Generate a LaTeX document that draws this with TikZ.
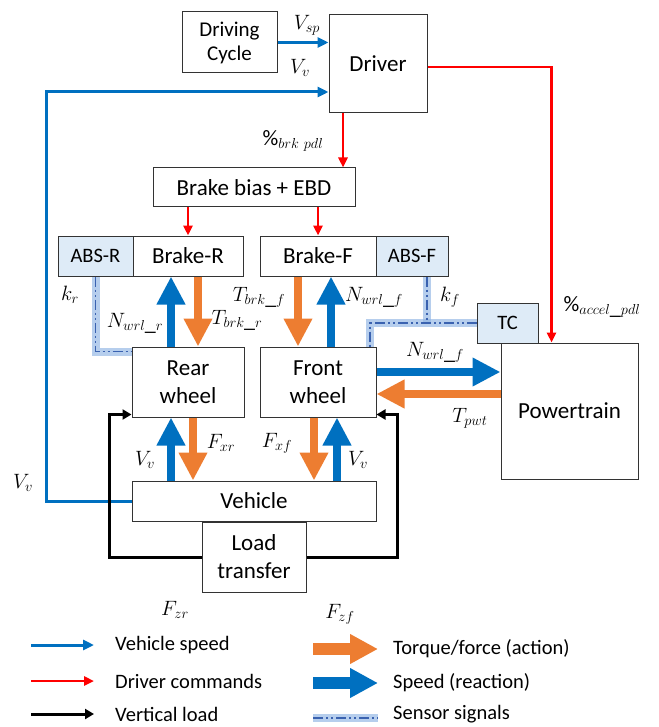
\documentclass[tikz,border=0pt]{standalone}
\usepackage{fontspec}
\setmainfont{Carlito}
\usetikzlibrary{arrows.meta,calc}
\definecolor{cblue}{HTML}{0070C0}
\definecolor{corange}{HTML}{ED7D31}
\definecolor{cred}{HTML}{FF0000}
\definecolor{cabs}{HTML}{DEEBF7}
\definecolor{csens}{HTML}{3A62B0}
\definecolor{cglow}{HTML}{8FB4E3}
\begin{document}
\begin{tikzpicture}[x=1pt,y=-1pt,
  box/.style={draw=black!80, line width=1pt, fill=white, inner sep=0pt, align=center, font=\fontsize{23}{28}\selectfont},
  absbox/.style={box, fill=cabs, font=\fontsize{20.5}{24}\selectfont},
  lbl/.style={font=\fontsize{22}{26}\selectfont, inner sep=0pt},
  legtext/.style={font=\fontsize{20.5}{24}\selectfont, inner sep=0pt, anchor=west},
  thinblue/.style={draw=cblue, line width=3pt, -{Triangle[length=11pt,width=10pt]}},
  thinred/.style={draw=cred, line width=2.5pt, -{Triangle[length=10pt,width=9pt]}},
  thinblack/.style={draw=black, line width=3pt, -{Triangle[length=9pt,width=10pt]}},
  bigblue/.style={draw=cblue, line width=8pt, -{Triangle[length=28pt,width=27pt]}},
  bigorange/.style={draw=corange, line width=8pt, -{Triangle[length=28pt,width=27pt]}},
  legblue/.style={draw=cblue, line width=12pt, -{Triangle[length=28pt,width=28pt]}},
  legorange/.style={draw=corange, line width=12pt, -{Triangle[length=28pt,width=28pt]}},
  glow/.style={draw=cglow, line width=8pt, opacity=0.65},
  sens/.style={draw=csens, line width=1.8pt, dash pattern=on 10pt off 3pt on 2pt off 3pt on 2pt off 3pt}
]
\useasboundingbox (0,0) rectangle (658,727);

% boxes
\node[box, minimum width=95pt, minimum height=61pt, font=\fontsize{21}{24}\selectfont] (dc) at (229.5,42.5) {Driving\\Cycle};
\node[box, minimum width=98pt, minimum height=98pt] (drv) at (378,64) {Driver};
\node[box, minimum width=202pt, minimum height=39pt] (bb) at (254,187.5) {Brake bias + EBD};
\node[absbox, minimum width=75pt, minimum height=40pt] (absr) at (95.5,256) {ABS-R};
\node[box, minimum width=110pt, minimum height=40pt] (brr) at (188,256) {Brake-R};
\node[box, minimum width=116pt, minimum height=40pt] (brf) at (318,256) {Brake-F};
\node[absbox, minimum width=72pt, minimum height=40pt] (absf) at (412,256) {ABS-F};
\node[box, minimum width=112pt, minimum height=70pt] (rw) at (188,382) {Rear\\wheel};
\node[box, minimum width=116pt, minimum height=70pt] (fw) at (318,382) {Front\\wheel};
\node[absbox, minimum width=61pt, minimum height=40pt] (tc) at (507.5,323) {TC};
\node[box, minimum width=137pt, minimum height=136pt] (pt) at (569.5,411) {Powertrain};
\node[box, minimum width=244pt, minimum height=40pt] (veh) at (254,501) {Vehicle};
\node[box, minimum width=104pt, minimum height=70pt] (lt) at (254,557) {Load\\transfer};

% vehicle speed lines
\draw[thinblue] (dc.east) -- (dc.east -| drv.west);
\coordinate (drvin) at ([yshift=-28pt]drv.west);
\coordinate (vcorner) at (46,92);
\draw[thinblue] (veh.west) -| (vcorner) -- (drvin);

% driver commands
\coordinate (ptin) at ([xshift=-18pt]pt.north);
\coordinate (drvout) at ([yshift=-3pt]drv.east);
\draw[thinred] (drvout) -| (ptin);
\coordinate (r1) at ([xshift=-35pt]drv.south);
\draw[thinred] (r1) -- (r1 |- bb.north);
\draw[thinred] (bb.south -| brr.north) -- (brr.north);
\draw[thinred] (bb.south -| brf.north) -- (brf.north);

% big arrows upper
\coordinate (ub1) at ([xshift=-17pt]rw.north);
\draw[bigblue] (ub1) -- (ub1 |- brr.south);
\coordinate (uo1) at ([xshift=10pt]brr.south);
\draw[bigorange] (uo1) -- (uo1 |- rw.north);
\coordinate (uo2) at ([xshift=-20pt]brf.south);
\draw[bigorange] (uo2) -- (uo2 |- fw.north);
\coordinate (ub2) at ([xshift=13pt]fw.north);
\draw[bigblue] (ub2) -- (ub2 |- brf.south);

% big arrows lower
\coordinate (lb1) at ([xshift=-17pt]rw.south);
\draw[bigblue] (lb1 |- veh.north) -- (lb1);
\coordinate (lo1) at ([xshift=5pt]rw.south);
\draw[bigorange] (lo1) -- (lo1 |- veh.north);
\coordinate (lo2) at ([xshift=-4pt]fw.south);
\draw[bigorange] (lo2) -- (lo2 |- veh.north);
\coordinate (lb2) at ([xshift=19pt]fw.south);
\draw[bigblue] (lb2 |- veh.north) -- (lb2);

% horizontal big arrows
\coordinate (hb) at ([yshift=10pt]fw.east);
\draw[bigblue] (hb) -- (hb -| pt.west);
\coordinate (ho) at ([yshift=17pt]pt.west);
\draw[bigorange] (ho) -- (ho -| fw.east);

% vertical load loops
\coordinate (rwin) at ([yshift=3pt]rw.south west);
\coordinate (fwin) at ([yshift=3pt]fw.south east);
\coordinate (bcor1) at (109,0);
\coordinate (bcor2) at (397,0);
\draw[thinblack] (lt.west) -| (bcor1 |- rwin) -- (rwin);
\draw[thinblack] (lt.east) -| (bcor2 |- fwin) -- (fwin);

% sensor signals
\coordinate (srw) at ([yshift=-5pt]rw.north west);
\coordinate (sfa) at ([xshift=15pt]absf.south);
\coordinate (sfw) at ([xshift=52pt]fw.north);
\draw[glow] (absr.south) |- (srw);
\draw[glow] (tc.west) -| (sfw);
\draw[glow] (sfa) -- (sfa |- tc.west);
\draw[sens] (absr.south) |- (srw);
\draw[sens] (tc.west) -| (sfw);
\draw[sens] (sfa) -- (sfa |- tc.west);

% labels
\node[lbl] (lvsp) at (307,25) {$V_{sp}$};
\node[lbl] (lvv1) at (300,68) {$V_{v}$};
\node[lbl] (lbrk) at (293,141) {$\%_{brk\ pdl}$};
\node[lbl] (lacc) at (602,307) {$\%_{accel\_pdl}$};
\node[lbl] (lkr) at (70,295) {$k_{r}$};
\node[lbl] (lnr) at (135,323) {$N_{wrl\_r}$};
\node[lbl] (ltr) at (237,320) {$T_{brk\_r}$};
\node[lbl] (ltf) at (259,297) {$T_{brk\_f}$};
\node[lbl] (lnf) at (374,297) {$N_{wrl\_f}$};
\node[lbl] (lkf) at (450,297) {$k_{f}$};
\node[lbl] (lnf2) at (435,352) {$N_{wrl\_f}$};
\node[lbl] (ltp) at (470,418) {$T_{pwt}$};
\node[lbl] (lvv2) at (145,460) {$V_{v}$};
\node[lbl] (lfxr) at (221,443) {$F_{xr}$};
\node[lbl] (lfxf) at (277,443) {$F_{xf}$};
\node[lbl] (lvv3) at (358,460) {$V_{v}$};
\node[lbl] (lvv4) at (23,483) {$V_{v}$};
\node[lbl] (lfzr) at (175,610) {$F_{zr}$};
\node[lbl] (lfzf) at (340,614) {$F_{zf}$};

% legend
\node[legtext] (t1) at (115,645) {Vehicle speed};
\node[legtext] (t2) at (115,681) {Driver commands};
\node[legtext] (t3) at (115,714) {Vertical load};
\node[legtext] (t4) at (393,649) {Torque/force (action)};
\node[legtext] (t5) at (393,683) {Speed (reaction)};
\node[legtext] (t6) at (393,714) {Sensor signals};
\draw[thinblue] ([xshift=-84pt]t1.west) -- ([xshift=-21pt]t1.west);
\draw[thinred] ([xshift=-84pt]t2.west) -- ([xshift=-21pt]t2.west);
\draw[thinblack] ([xshift=-84pt]t3.west) -- ([xshift=-21pt]t3.west);
\draw[legorange] ([xshift=-80pt]t4.west) -- ([xshift=-15pt]t4.west);
\draw[legblue] ([xshift=-80pt]t5.west) -- ([xshift=-15pt]t5.west);
\coordinate (s6) at ([yshift=-4pt]t6.west);
\draw[glow] ([xshift=-80pt]s6) -- ([xshift=-15pt]s6);
\draw[sens] ([xshift=-80pt]s6) -- ([xshift=-15pt]s6);
\end{tikzpicture}
\end{document}
